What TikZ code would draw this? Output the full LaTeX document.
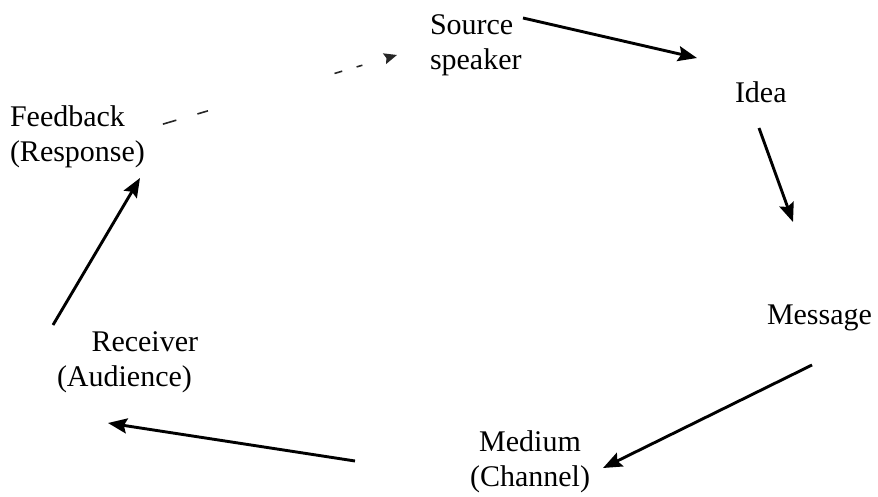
\documentclass[tikz,border=0pt]{standalone}
\usepackage{fontspec}
\setmainfont{Liberation Serif}
\usetikzlibrary{arrows.meta}
\begin{document}
\begin{tikzpicture}[x=1pt,y=-1pt,
  lbl/.style={inner sep=0pt,outer sep=0pt,font=\fontsize{30}{35}\selectfont},
  flow/.style={line width=2.9pt,-{Stealth[length=19pt,width=15pt,inset=3pt]}},
  fback/.style={line width=1.6pt,black!85,dash pattern=on 0pt off 3pt on 14pt off 22pt on 11pt off 132pt on 8pt off 15pt on 6pt off 100pt,-{Stealth[length=13pt,width=11pt,inset=2pt]}}]
\useasboundingbox (0,0) rectangle (878,497);
% labels
\node[lbl,anchor=base west,align=left] (src) at (430,70) {Source\\speaker};
\node[lbl,anchor=base west] (idea) at (735,103) {Idea};
\node[lbl,anchor=base west] (msg) at (767,324) {Message};
\node[lbl,anchor=base,align=center] (med) at (530,486) {Medium\\(Channel)};
\node[lbl,anchor=base west,align=left] (rec) at (57,386) {\hspace{1.15em}Receiver\\(Audience)};
\node[lbl,anchor=base west,align=left] (fb) at (10,162) {Feedback\\(Response)};
% connector ends
\coordinate (s1) at (523,18);  \coordinate (e1) at (697,58);
\coordinate (s2) at (759,128); \coordinate (e2) at (793,222);
\coordinate (s3) at (812,365); \coordinate (e3) at (603,468);
\coordinate (s4) at (355,461); \coordinate (e4) at (108,423);
\coordinate (s5) at (53,325);  \coordinate (e5) at (140,178);
\coordinate (s6) at (160,125); \coordinate (e6) at (397,55);
\draw[flow] (s1) -- (e1);
\draw[flow] (s2) -- (e2);
\draw[flow] (s3) -- (e3);
\draw[flow] (s4) -- (e4);
\draw[flow] (s5) -- (e5);
\draw[fback] (s6) -- (e6);
\end{tikzpicture}
\end{document}
